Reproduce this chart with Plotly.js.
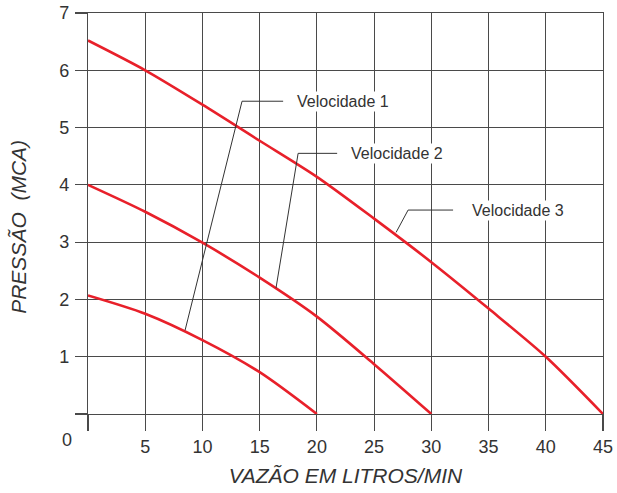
<!DOCTYPE html>
<html>
<head>
<meta charset="utf-8">
<script src="https://cdn.plot.ly/plotly-3.0.1.min.js"></script>
<style>html,body{margin:0;padding:0;background:#fff;}#chart{width:617px;height:493px;}</style>
</head>
<body>
<div id="chart"></div>
<script>
// ---- data ----
const flowV1 = [0, 5, 10, 15, 20];
const pressV1 = [2.07, 1.75, 1.29, 0.73, 0];
const flowV2 = [0, 5, 10, 15, 20, 25, 30];
const pressV2 = [4.0, 3.53, 2.99, 2.38, 1.7, 0.87, 0];
const flowV3 = [0, 5, 10, 15, 20, 25, 30, 35, 40, 45];
const pressV3 = [6.52, 6.0, 5.4, 4.77, 4.14, 3.41, 2.65, 1.84, 1.0, 0];

const xTicks = [0, 5, 10, 15, 20, 25, 30, 35, 40, 45];
const xTickText = ['', '5', '10', '15', '20', '25', '30', '35', '40', '45'];
const yTicks = [0, 1, 2, 3, 4, 5, 6, 7];
const yTickText = ['', '1', '2', '3', '4', '5', '6', '7'];
const xRange = [0, 45];
const yRange = [0, 7];

const labels = ['Velocidade 1', 'Velocidade 2', 'Velocidade 3'];
const labelX = [18.1, 22.8, 33.4];
const labelY = [5.46, 4.55, 3.56];
const elbowX = [13.46, 18.36, 27.97];
const leaderEndX = [17.05, 21.77, 31.9];
const pointX = [8.48, 16.43, 26.92];
const pointY = [1.46, 2.2, 3.17];

const xTitle = 'VAZÃO EM LITROS/MIN';
const yTitle = 'PRESSÃO\u00a0\u00a0(MCA)';

// ---- chart ----
const red = '#e8202a';
const gridCol = '#4a4a4a';
const sans = '"Liberation Sans", Arial, Helvetica, sans-serif';

function curve(x, y) {
  return {x: x, y: y, type: 'scatter', mode: 'lines',
          line: {color: red, width: 2.6, shape: 'spline', smoothing: 0.8},
          hoverinfo: 'skip', showlegend: false};
}

const traces = [curve(flowV1, pressV1), curve(flowV2, pressV2), curve(flowV3, pressV3)];

const shapes = labels.map((l, i) => ({
  type: 'path', xref: 'x', yref: 'y',
  path: `M ${leaderEndX[i]},${labelY[i]} L ${elbowX[i]},${labelY[i]} L ${pointX[i]},${pointY[i]}`,
  line: {color: '#333', width: 1}
}));
// tick marks at both ends of the x range (paper coords so they are not clipped)
xRange.forEach(v => {
  const p = (v - xRange[0]) / (xRange[1] - xRange[0]);
  shapes.push({
    type: 'line', xref: 'paper', yref: 'paper', x0: p, x1: p, y0: 0, y1: -0.04,
    line: {color: gridCol, width: 1.2}
  });
});

const annotations = labels.map((l, i) => ({
  x: labelX[i], y: labelY[i], xref: 'x', yref: 'y', text: l, showarrow: false,
  xanchor: 'left', yanchor: 'middle', bgcolor: '#fff', borderpad: 1,
  font: {family: sans, size: 16, color: '#333'}
}));
annotations.push({
  x: -0.041, y: -0.065, xref: 'paper', yref: 'paper', text: '0', showarrow: false,
  xanchor: 'center', yanchor: 'middle', font: {family: sans, size: 18, color: '#333'}
});
annotations.push({
  x: -0.135, y: 0.468, xref: 'paper', yref: 'paper', text: '<i>' + yTitle + '</i>',
  showarrow: false, textangle: -90, xanchor: 'center', yanchor: 'middle',
  font: {family: sans, size: 21, color: '#333'}
});

const layout = {
  width: 617, height: 493,
  margin: {l: 88, r: 14, t: 13, b: 79},
  paper_bgcolor: '#fff', plot_bgcolor: '#fff',
  showlegend: false,
  xaxis: {
    range: xRange, tickvals: xTicks, ticktext: xTickText,
    showgrid: true, gridcolor: gridCol, gridwidth: 1.2,
    zeroline: false, showline: true, mirror: true, linecolor: gridCol, linewidth: 1.2,
    ticks: 'outside', ticklen: 16, tickcolor: gridCol, tickwidth: 1.2,
    ticklabelstandoff: 0,
    tickfont: {family: sans, size: 18, color: '#333'},
    title: {text: '<i>' + xTitle + '</i>', standoff: 12, font: {family: sans, size: 21, color: '#333'}}
  },
  yaxis: {
    range: yRange, tickvals: yTicks, ticktext: yTickText,
    showgrid: true, gridcolor: gridCol, gridwidth: 1.2,
    zeroline: false, showline: true, mirror: true, linecolor: gridCol, linewidth: 1.2,
    ticks: 'outside', ticklen: 12, tickcolor: gridCol, tickwidth: 1.2,
    ticklabelstandoff: 2,
    tickfont: {family: sans, size: 18, color: '#333'}
  },
  shapes: shapes,
  annotations: annotations
};

Plotly.newPlot('chart', traces, layout, {displayModeBar: false, staticPlot: true});
</script>
</body>
</html>
